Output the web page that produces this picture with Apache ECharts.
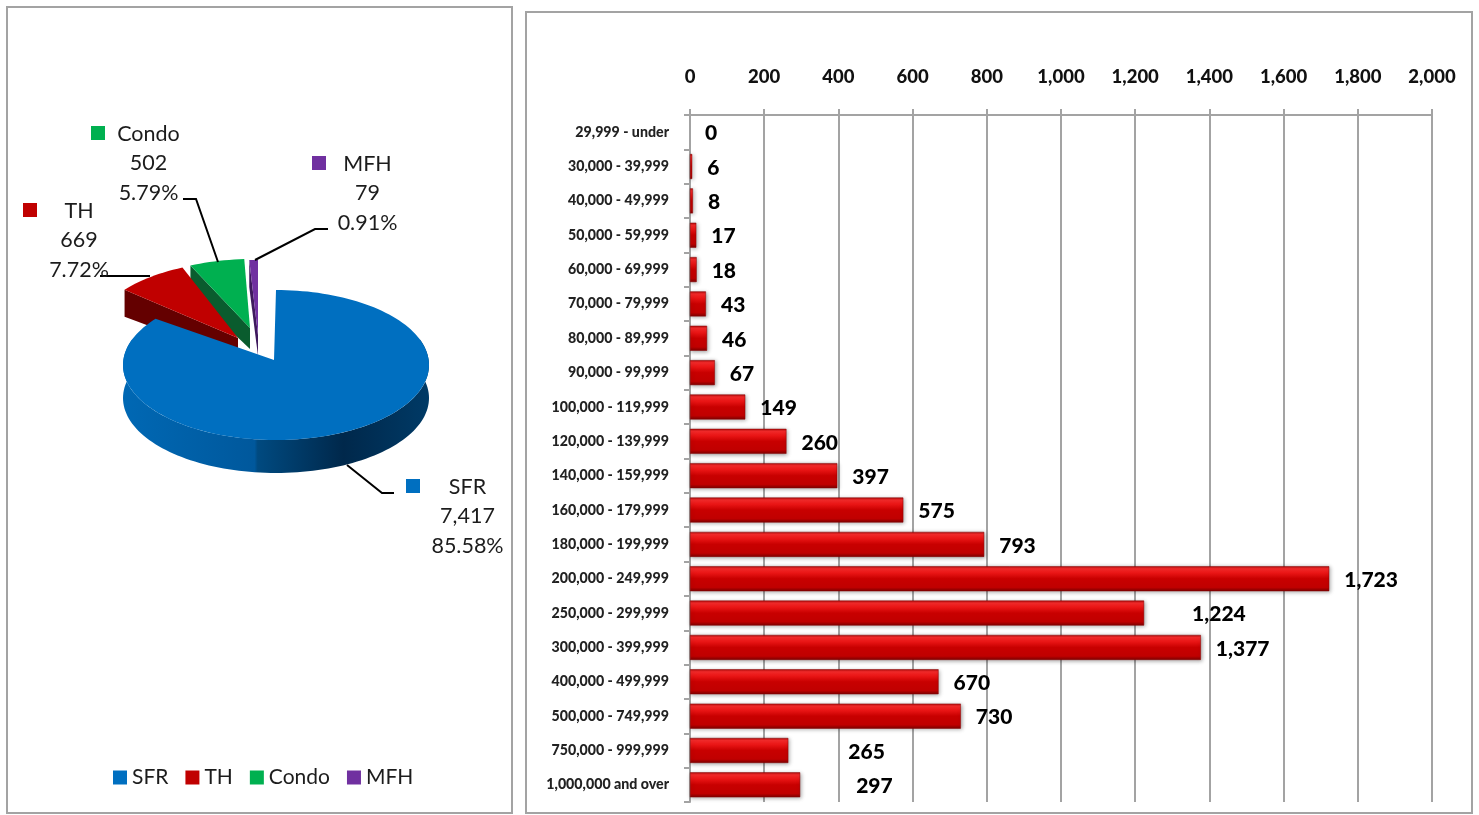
<!DOCTYPE html>
<html><head><meta charset="utf-8">
<style>html,body{margin:0;padding:0;background:#fff}#c{width:1479px;height:815px}</style>
<script src="https://cdn.jsdelivr.net/npm/echarts@6/dist/echarts.min.js"></script>
</head><body><div id="c"></div>
<script>
const priceRanges = ['29,999 - under','30,000 - 39,999','40,000 - 49,999','50,000 - 59,999','60,000 - 69,999','70,000 - 79,999','80,000 - 89,999','90,000 - 99,999','100,000 - 119,999','120,000 - 139,999','140,000 - 159,999','160,000 - 179,999','180,000 - 199,999','200,000 - 249,999','250,000 - 299,999','300,000 - 399,999','400,000 - 499,999','500,000 - 749,999','750,000 - 999,999','1,000,000 and over'];
const salesCounts = [0,6,8,17,18,43,46,67,149,260,397,575,793,1723,1224,1377,670,730,265,297];
const propertyTypes = ['SFR','TH','Condo','MFH'];
const propertyCounts = [7417,669,502,79];

const FONT = 'Lato, "Open Sans", sans-serif';
const GRAY = '#a3a3a3';
const total = propertyCounts.reduce((a,b)=>a+b,0);
const RX = 153, RY = 75, DEPTH = 33;

// Presentation for each slice of the tilted pie (looked up by type name)
const sliceStyle = {
  SFR:  {fill:'#006fc0', side:'#00406f', apex:[274,360], rim:[276,365], tx:467.5, ty:487, key:[406,479],
         leader:[[347,465],[382,493],[394,493]]},
  TH:   {fill:'#c00000', side:'#640000', apex:[238,338], rim:[245,336], tx:79, ty:211, key:[23,203],
         leader:[[100,276],[150,276]]},
  Condo:{fill:'#00b050', side:'#0a5c2e', apex:[250,328], rim:[253,334], tx:148.5, ty:134, key:[91,126],
         leader:[[183,199],[196,199],[218,262]]},
  MFH:  {fill:'#7030a0', side:'#3f1a5e', apex:[258,335], rim:[258,335], tx:367.5, ty:164, key:[312,156],
         leader:[[328,229],[315,229],[255,260]]}
};
const wallFill = {type:'linear',x:0,y:0,x2:1,y2:0,colorStops:[
  {offset:0,color:'#0068b4'},{offset:.43,color:'#00589c'},{offset:.44,color:'#004a80'},
  {offset:.72,color:'#00284b'},{offset:1,color:'#003a66'}]};

function startAngle(i){
  let s=0; for(let k=0;k<i;k++) s+=propertyCounts[k];
  return s/total*360;
}
function rimPoint(c,deg,dy){
  const r=deg*Math.PI/180;
  return [c[0]+RX*Math.sin(r), c[1]-RY*Math.cos(r)+(dy||0)];
}
function arc(c,a,b,dy){
  const pts=[], n=Math.max(2,Math.ceil(Math.abs(b-a)/2));
  for(let j=0;j<=n;j++) pts.push(rimPoint(c,a+(b-a)*j/n,dy));
  return pts;
}
function makeRender(i){
  return function(params,api){
    const name=propertyTypes[i], st=sliceStyle[name], value=api.value(0);
    const a=startAngle(i), b=a+value/total*360;
    const kids=[];
    if(name==='SFR'){
      // outer wall seen at the front of the big slice
      const top=arc(st.rim,70,290,0), bot=arc(st.rim,290,70,DEPTH);
      kids.push({type:'polygon',shape:{points:top.concat(bot)},style:{fill:wallFill}});
    } else {
      // cut face seen at the leading edge of an exploded slice
      const o=rimPoint(st.rim,a,0);
      kids.push({type:'polygon',shape:{points:[st.apex,o,[o[0],o[1]+DEPTH-6],[st.apex[0],st.apex[1]+DEPTH-12]]},style:{fill:st.side}});
    }
    kids.push({type:'polygon',shape:{points:[st.apex].concat(arc(st.rim,a,b,0))},style:{fill:st.fill}});
    kids.push({type:'polyline',shape:{points:st.leader},style:{stroke:'#000',lineWidth:2,fill:null}});
    kids.push({type:'rect',shape:{x:st.key[0],y:st.key[1],width:14,height:14},style:{fill:st.fill}});
    const lines=[name,value.toLocaleString('en-US'),(value/total*100).toFixed(2)+'%'];
    lines.forEach((t,k)=>kids.push({type:'text',style:{text:t,x:st.tx,y:st.ty+k*29.5,
      align:'center',verticalAlign:'middle',font:'21.5px '+FONT,fill:'#1c1c1c'}}));
    return {type:'group',children:kids};
  };
}
// draw back-to-front: the red slice overlaps the green cut face, the big slice overlaps all
const drawOrder=[3,2,1,0];
const pieSeries=drawOrder.map(i=>({
  type:'custom',name:propertyTypes[i],coordinateSystem:'none',silent:true,
  itemStyle:{color:sliceStyle[propertyTypes[i]].fill},
  data:[[propertyCounts[i]]],renderItem:makeRender(i),z:3
}));

const barFill={type:'linear',x:0,y:0,x2:0,y2:1,colorStops:[
  {offset:0,color:'#b00c0c'},{offset:.1,color:'#f52a2a'},{offset:.28,color:'#e81414'},
  {offset:.5,color:'#c80000'},{offset:.85,color:'#c00000'},{offset:1,color:'#7d0000'}]};
const labelShift={1224:33,265:45,297:41};
const emptyBar={color:'transparent',borderWidth:0,shadowBlur:0,shadowOffsetX:0,shadowOffsetY:0,shadowColor:'transparent'};

const option={
  animation:false,
  backgroundColor:'#fff',
  textStyle:{fontFamily:FONT},
  graphic:[
    {type:'rect',shape:{x:7,y:7,width:505,height:806},style:{fill:'none',stroke:GRAY,lineWidth:2},silent:true,z:-1},
    {type:'rect',shape:{x:526,y:12,width:946,height:801},style:{fill:'none',stroke:GRAY,lineWidth:2},silent:true,z:-1}
  ],
  legend:{left:108,top:762,icon:'rect',itemWidth:14,itemHeight:14,itemGap:17,
    data:propertyTypes,selectedMode:false,
    textStyle:{fontFamily:FONT,fontSize:21,color:'#1c1c1c'}},
  grid:{left:690,top:115,width:742,height:687,containLabel:false},
  xAxis:{type:'value',position:'top',min:0,max:2000,interval:200,
    axisLine:{show:true,lineStyle:{color:GRAY,width:2}},
    axisTick:{show:true,length:6,lineStyle:{color:GRAY,width:2}},
    splitLine:{show:true,lineStyle:{color:GRAY,width:2}},
    axisLabel:{margin:28,fontFamily:FONT,fontWeight:900,fontSize:18.5,color:'#111',
      formatter:v=>v.toLocaleString('en-US')}},
  yAxis:{type:'category',inverse:true,data:priceRanges,
    axisLine:{show:true,lineStyle:{color:GRAY,width:2}},
    axisTick:{show:true,length:6,lineStyle:{color:GRAY,width:2}},
    axisLabel:{margin:21,fontFamily:FONT,fontWeight:900,fontSize:14.2,color:'#222',interval:0,padding:[2,0,0,0]}},
  series:[{
    type:'bar',name:'Sales',barWidth:25,silent:true,z:2,
    data:salesCounts.map(v=>({value:v,
      itemStyle:v===0?emptyBar:undefined,
      label:{offset:[labelShift[v]||0,1.5]}})),
    itemStyle:{color:barFill,shadowBlur:4,shadowColor:'rgba(0,0,0,.35)',shadowOffsetX:1,shadowOffsetY:1,
      borderColor:'#8a0000',borderWidth:.5},
    label:{show:true,position:'right',distance:15,fontFamily:FONT,fontWeight:900,fontSize:21,color:'#000',
      formatter:p=>p.value.toLocaleString('en-US')}
  }].concat(pieSeries)
};
echarts.init(document.getElementById('c'),null,{renderer:'canvas'}).setOption(option);
</script></body></html>
